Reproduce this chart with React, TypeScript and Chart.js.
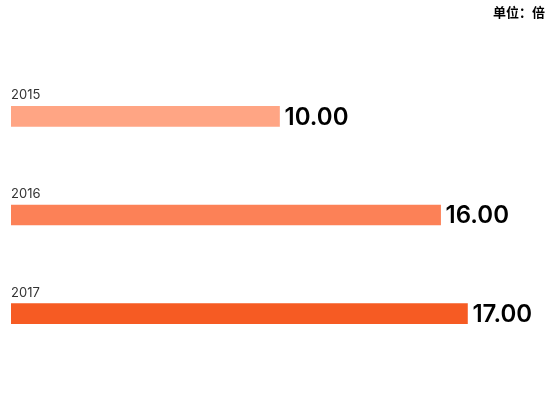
import React, { useEffect, useRef } from "react";
import { Chart, registerables, Plugin } from "chart.js";

Chart.register(...registerables);

const years = ["2015", "2016", "2017"];
const values = [10, 16, 17];
const barColors = ["#FFA584", "#FC8157", "#F65B23"];
const unitLabel = "单位：倍";

const labelPlugin: Plugin<"bar"> = {
  id: "barLabels",
  afterDatasetsDraw(chart) {
    const ctx = chart.ctx;
    const meta = chart.getDatasetMeta(0);
    ctx.save();
    meta.data.forEach((bar: any, i: number) => {
      const props = bar.getProps(["x", "y", "base", "height"], true);
      // year label above bar
      ctx.font = "13px Inter, 'Noto Sans CJK SC', sans-serif";
      ctx.fillStyle = "#333333";
      ctx.textAlign = "left";
      ctx.textBaseline = "alphabetic";
      ctx.fillText(years[i], props.base, props.y - props.height / 2 - 7);
      // value to the right of bar
      ctx.font = "600 24px Inter, 'Noto Sans CJK SC', sans-serif";
      ctx.fillStyle = "#000000";
      ctx.textBaseline = "middle";
      ctx.fillText(values[i].toFixed(2), props.x + 5, props.y + 1);
    });
    // unit label top right
    ctx.font = "bold 13px 'Noto Sans CJK SC', sans-serif";
    ctx.fillStyle = "#000000";
    ctx.textAlign = "right";
    ctx.textBaseline = "middle";
    ctx.fillText(unitLabel, chart.width - 5, 12);
    ctx.restore();
  },
};

const App: React.FC = () => {
  const canvasRef = useRef<HTMLCanvasElement | null>(null);
  const chartRef = useRef<Chart | null>(null);

  useEffect(() => {
    document.body.style.margin = "0";
    const ctx = canvasRef.current?.getContext("2d");
    if (!ctx) return;
    if (chartRef.current) chartRef.current.destroy();

    chartRef.current = new Chart(ctx, {
      type: "bar",
      data: {
        labels: years,
        datasets: [
          {
            data: values,
            backgroundColor: barColors,
            barThickness: 20,
            borderWidth: 0,
          },
        ],
      },
      options: {
        indexAxis: "y",
        animation: false,
        responsive: true,
        maintainAspectRatio: false,
        layout: {
          padding: { left: 11, right: 2, top: 67, bottom: 57 },
        },
        plugins: {
          legend: { display: false },
          tooltip: { enabled: false },
        },
        scales: {
          x: { display: false, min: 0, max: 20 },
          y: { display: false },
        },
      },
      plugins: [labelPlugin],
    });

    return () => {
      if (chartRef.current) {
        chartRef.current.destroy();
        chartRef.current = null;
      }
    };
  }, []);

  return (
    <div style={{ width: 550, height: 420, position: "relative" }}>
      <canvas ref={canvasRef}></canvas>
    </div>
  );
};

export default App;
